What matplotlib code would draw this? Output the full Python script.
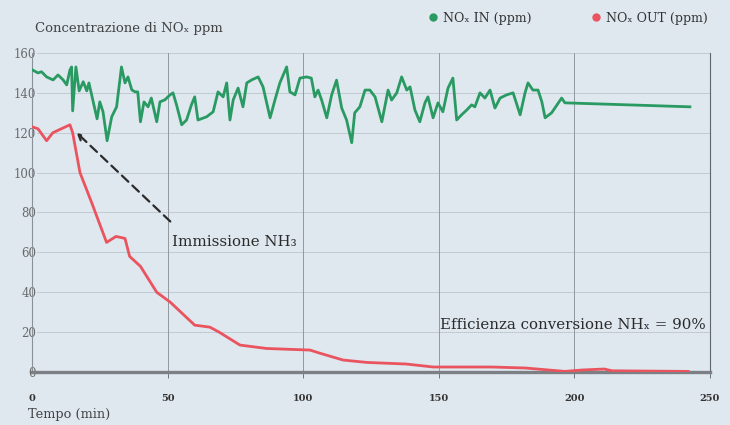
import matplotlib
matplotlib.use("Agg")
import matplotlib.pyplot as plt
from matplotlib.lines import Line2D

# -----------------------------
# Dati
# -----------------------------
t_in = [0.2, 2.2, 3.5, 5.4, 7.8, 9.6, 11.5, 12.8, 14, 14.6, 15, 16.2, 17.4, 18.9,
        20.2, 21, 22.5, 24, 25, 26.2, 27.7, 29.4, 31.2, 33, 34.3, 35.4, 36.8, 38,
        39, 40, 41.3, 42.8, 44, 46, 47.2, 49, 50.9, 52, 53.3, 55.2, 57, 58.8, 60,
        61.2, 64.4, 66.8, 68.6, 70.5, 71.8, 73, 74.2, 76, 77.8, 79.2, 81, 83.4,
        85.2, 87.8, 89.6, 91.4, 93.9, 95.1, 97, 98.8, 101.3, 103, 104.3, 105.5,
        106.8, 108.7, 110.5, 112.3, 114.2, 116, 117.9, 119, 120.9, 122.8, 124.6,
        126.5, 129, 131.3, 132.6, 134.5, 136.3, 138.2, 139.4, 141.2, 143, 144.9,
        146, 147.9, 149.7, 151.5, 153.4, 155.2, 156.6, 158.4, 160.3, 162.1, 163.3,
        165.2, 167, 168.9, 170.7, 172.6, 175, 177.4, 180, 181.8, 182.9, 184.7,
        186.6, 188, 189.2, 191.6, 195.3, 196.5, 242.6]
nox_in = [151.5, 150, 150.6, 148, 146.5, 149, 146.5, 144, 151.5, 153, 131, 153, 141,
          145.6, 141, 145, 136, 127, 135.5, 130.5, 116, 128, 133, 153, 145, 148,
          141.5, 140.5, 140.5, 125.5, 135.5, 133, 137.4, 125.5, 135.5, 136.5, 139,
          140, 134, 124, 126.4, 134, 138, 126.4, 128, 130.5, 140.5, 138, 145,
          126.4, 136.5, 142.4, 133, 145, 146.5, 148, 143, 127.5, 136.5, 145, 153,
          140.5, 139, 147.4, 148, 147.4, 138, 141.4, 136.4, 127.5, 139, 146.4,
          132.4, 126.4, 115, 130, 133, 141.4, 141.4, 138, 125.5, 141.4, 136.4, 140,
          148, 141.4, 143, 131.4, 125.5, 135, 138, 127.5, 135, 130.5, 142.4, 147.4,
          126.4, 129, 131.4, 134, 133, 140, 137.4, 141.4, 132.4, 137.4, 139, 140,
          129, 140, 145, 141.4, 141.4, 135.5, 127.5, 130, 137.4, 135, 133]

t_out = [0, 2.2, 5.4, 7.7, 14, 15, 17.7, 22, 27.5, 31, 34.3, 36, 40, 46, 51, 60,
         65.6, 69, 76.7, 86.5, 102.5, 106, 114.7, 123.5, 138, 148, 158, 169.6, 182,
         196.5, 202.8, 211, 213.9, 242]
nox_out = [123, 122, 116, 120, 124, 120, 100, 85, 65, 68, 67, 58, 53, 40, 35, 23.5,
           22.5, 20, 13.5, 11.8, 11, 9.5, 6, 4.8, 4, 2.5, 2.5, 2.5, 2, 0.3, 1, 1.5,
           0.6, 0.3]

x_ticks = [0, 50, 100, 150, 200, 250]
y_ticks = [0, 20, 40, 60, 80, 100, 120, 140, 160]

# -----------------------------
# Stile
# -----------------------------
bg = "#dfe7ef"
green = "#2a9a63"
red = "#e9545f"
serif = ["DejaVu Serif", "DejaVu Sans"]
plt.rcParams["font.family"] = serif

fig = plt.figure(figsize=(7.3, 4.25), dpi=100, facecolor=bg)
ax = fig.add_axes([0.0438, 0.1247, 0.9288, 0.7506])
ax.set_facecolor(bg)

ax.plot(t_in, nox_in, color=green, lw=2.0, solid_joinstyle="round", zorder=3)
ax.plot(t_out, nox_out, color=red, lw=2.0, solid_joinstyle="round", zorder=3)

ax.set_xlim(0, 250)
ax.set_ylim(0, 160)
ax.set_xticks(x_ticks)
ax.set_yticks(y_ticks)

# griglia
ax.yaxis.grid(True, linestyle=(0, (1.0, 1.4)), color="#8d949c", lw=0.6)
ax.xaxis.grid(True, linestyle="-", color="#858b92", lw=0.6)
ax.set_axisbelow(True)

ax.spines["top"].set_visible(False)
ax.spines["left"].set_color("#8a9098")
ax.spines["left"].set_linewidth(0.8)
ax.spines["right"].set_color("#5f656c")
ax.spines["right"].set_linewidth(0.8)
ax.spines["bottom"].set_color("#7c8084")
ax.spines["bottom"].set_linewidth(2.4)

ax.tick_params(axis="x", length=4, width=0.7, color="#6f757c", pad=12,
               labelsize=7, labelcolor="#333333")
ax.tick_params(axis="y", length=0, pad=-3, labelsize=8.5, labelcolor="#6a6a6a")
for lab in ax.get_yticklabels():
    lab.set_bbox(dict(facecolor=bg, edgecolor="none", pad=0.5))
for lab in ax.get_xticklabels():
    lab.set_fontweight("bold")

# annotazioni
ax.annotate("", xy=(16.5, 120), xytext=(51, 75.5),
            arrowprops=dict(arrowstyle="->", linestyle=(0, (4, 2.5)),
                            color="#2b2b2b", lw=1.6, shrinkA=0, shrinkB=0))
ax.text(51.5, 65, "Immissione NH\u2083", fontsize=10.8, color="#2b2b2b",
        ha="left", va="center")
ax.text(248.5, 23.5, "Efficienza conversione NH\u2093 = 90%", fontsize=10.8,
        color="#2b2b2b", ha="right", va="center")

fig.text(0.048, 0.934, "Concentrazione di NO\u2093 ppm", fontsize=9.5,
         color="#444444", ha="left", va="center")
fig.text(0.038, 0.025, "Tempo (min)", fontsize=9.3, color="#444444",
         ha="left", va="center")

handles = [Line2D([], [], marker="o", linestyle="none", color=green, markersize=5),
           Line2D([], [], marker="o", linestyle="none", color=red, markersize=5)]
leg = fig.legend(handles, ["NO\u2093 IN (ppm)", "NO\u2093 OUT (ppm)"], ncol=2,
                 loc="center right", bbox_to_anchor=(0.985, 0.957), frameon=False,
                 fontsize=9, handletextpad=0.4, columnspacing=4.8,
                 handlelength=0.8, labelcolor="#333333")

fig.savefig("out.png", dpi=100, facecolor=bg)
